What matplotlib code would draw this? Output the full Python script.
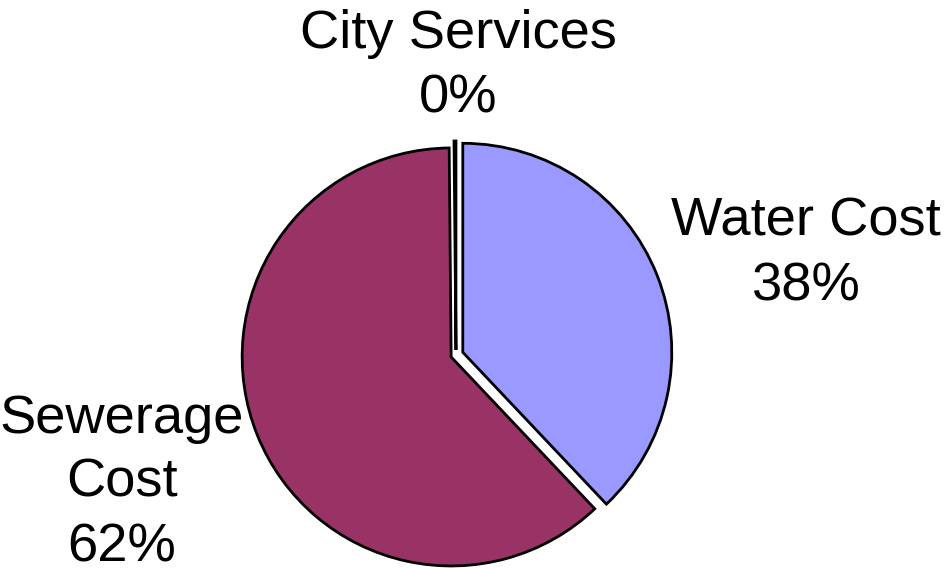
import matplotlib
matplotlib.use("Agg")
import matplotlib.pyplot as plt

categories = ["Water Cost", "Sewerage\nCost", "City Services"]
values = [38.0, 62.0, 0.15]
pct_labels = ["38%", "62%", "0%"]
colors = ["#9999FF", "#993366", "#FFFFFF"]
explode = [0.035, 0.025, 0.024]

W, H = 945, 568
fig = plt.figure(figsize=(W / 100, H / 100), dpi=100)
ax = fig.add_axes([0, 0, 1, 1])

R = 209.0  # radius in px
cx, cy = 456.0, 355.0  # pie center in px (from top-left)

ax.pie(values, colors=colors, explode=explode, startangle=90, counterclock=False,
       radius=1.0, wedgeprops=dict(edgecolor="black", linewidth=2.0))

ax.set_xlim(-cx / R, (W - cx) / R)
ax.set_ylim(-(H - cy) / R, cy / R)
ax.set_aspect("equal")
ax.axis("off")

font = dict(family=["Liberation Sans", "DejaVu Sans"], fontsize=39.2, color="black")

def px(x, y):
    return ((x - cx) / R, (cy - y) / R)

label_pos = {"Water Cost": (806, 254), "Sewerage\nCost": (122, 483), "City Services": (458, 66)}
for cat, p in zip(categories, pct_labels):
    x, y = px(*label_pos[cat])
    ax.text(x, y, f"{cat}\n{p}", ha="center", va="center", linespacing=1.37, **font)

fig.savefig("out.png", dpi=100)
